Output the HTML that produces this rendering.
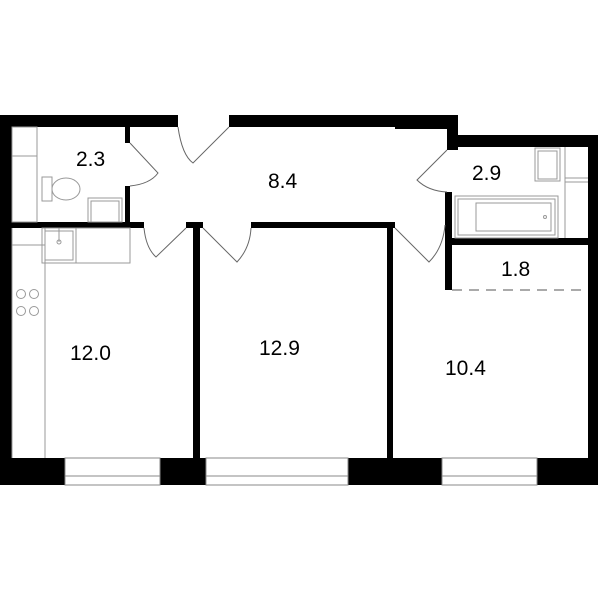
<!DOCTYPE html>
<html><head><style>body{margin:0;background:#fff}svg{display:block}text{font-family:"Liberation Sans",sans-serif;font-size:21px;fill:#000}</style></head><body>
<svg width="600" height="600" viewBox="0 0 600 600">
<g fill="#000">
<rect x="0" y="115" width="178" height="12"/>
<rect x="229" y="115" width="166" height="12"/>
<rect x="395" y="115" width="63" height="14"/>
<rect x="447" y="115" width="11" height="35"/>
<rect x="447" y="135" width="151" height="12"/>
<rect x="588" y="135" width="10" height="350"/>
<rect x="0" y="115" width="12" height="370"/>
<rect x="0" y="458" width="598" height="27"/>
<rect x="125" y="127" width="5" height="16"/>
<rect x="125" y="186" width="5" height="40"/>
<rect x="10" y="222" width="134" height="6"/>
<rect x="186" y="222" width="17" height="6"/>
<rect x="193" y="222" width="7" height="236"/>
<rect x="251" y="222" width="144" height="6"/>
<rect x="387" y="222" width="6" height="236"/>
<rect x="445" y="192" width="7" height="98"/>
<rect x="452" y="238" width="136" height="7"/>
</g>
<g fill="#fff" stroke="#888" stroke-width="1">
<rect x="65" y="458" width="95" height="27"/><line x1="65" y1="476" x2="160" y2="476"/>
<rect x="206" y="458" width="142" height="27"/><line x1="206" y1="476" x2="348" y2="476"/>
<rect x="442" y="458" width="95" height="27"/><line x1="442" y1="476" x2="537" y2="476"/>
</g>
<g fill="none" stroke="#666" stroke-width="1">
<path d="M178 127 Q182 155 193 163 L229 127"/>
<path d="M130 143 L158 173 Q150 184 130 186"/>
<path d="M447 150 L417 180 Q428 191 447 192"/>
<path d="M144 228 Q146 248 156 257 L186 228"/>
<path d="M203 228 L237 262 Q250 248 251 228"/>
<path d="M395 228 L429 262 Q443 248 445 225"/>
<line x1="452" y1="290" x2="588" y2="290" stroke="#aaa" stroke-width="2" stroke-dasharray="10,7"/>
</g>
<g fill="none" stroke="#999" stroke-width="1">
<rect x="12" y="127" width="25" height="95"/><line x1="12" y1="156" x2="37" y2="156"/>
<rect x="42" y="177" width="10" height="24"/><ellipse cx="66" cy="189" rx="14" ry="11"/>
<rect x="88" y="198" width="34" height="24"/><rect x="91" y="201" width="28" height="21"/>
<line x1="12" y1="228" x2="12" y2="458"/><line x1="45" y1="228" x2="45" y2="458"/>
<rect x="42" y="228" width="88" height="35"/><rect x="42" y="228" width="34" height="35"/><rect x="45" y="231" width="28" height="29"/>
<line x1="59" y1="228" x2="59" y2="242"/><circle cx="59" cy="242" r="2"/>
<line x1="12" y1="245" x2="45" y2="245"/>
<circle cx="21" cy="294" r="4.5"/><circle cx="34" cy="294" r="4.5"/><circle cx="21" cy="311" r="4.5"/><circle cx="34" cy="311" r="4.5"/>
<rect x="535" y="148" width="25" height="33"/><rect x="538" y="151" width="19" height="28"/>
<line x1="565" y1="147" x2="565" y2="238"/><line x1="565" y1="178" x2="588" y2="178"/><line x1="565" y1="182" x2="588" y2="182"/>
<rect x="455" y="196" width="103" height="42"/><rect x="458" y="199" width="97" height="36"/><rect x="476" y="203" width="75" height="28"/>
<circle cx="545" cy="217" r="1.5"/>
</g>
<text x="76" y="166">2.3</text>
<text x="268" y="188">8.4</text>
<text x="472" y="180">2.9</text>
<text x="501" y="276">1.8</text>
<text x="70" y="360">12.0</text>
<text x="259" y="355">12.9</text>
<text x="445" y="375">10.4</text>
</svg>
</body></html>
